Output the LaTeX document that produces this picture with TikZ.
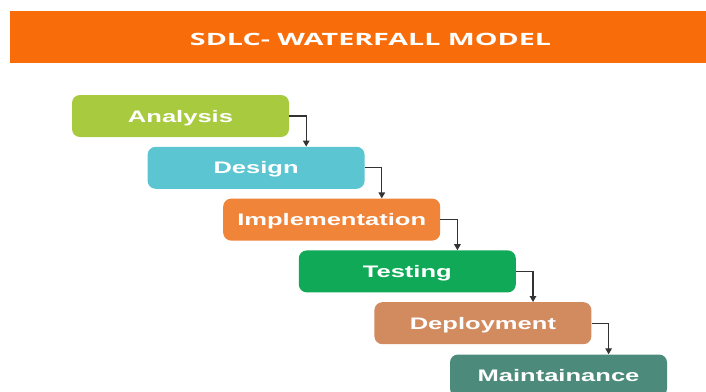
\documentclass[tikz,border=0pt]{standalone}
\usepackage{fontspec}
\setmainfont{Liberation Sans}
\newfontfamily\titlefont{Open Sans}
\usetikzlibrary{arrows.meta}
\definecolor{banner}{HTML}{F86D0A}
\definecolor{cAna}{HTML}{A8CA3F}
\definecolor{cDes}{HTML}{5BC5D2}
\definecolor{cImp}{HTML}{F0853A}
\definecolor{cTes}{HTML}{10A957}
\definecolor{cDep}{HTML}{D28A5F}
\definecolor{cMai}{HTML}{4C8B7B}
\definecolor{conn}{HTML}{333333}
\tikzset{
  phase/.style={fill=#1, draw=none, rounded corners=8pt, minimum width=217pt,
    minimum height=42pt, inner sep=0pt, text=white, text height=12pt, text depth=0pt,
    font=\fontsize{16.7pt}{18pt}\selectfont\bfseries},
  link/.style={draw=conn, line width=1.3pt, -{Triangle[width=6.5pt,length=6pt]}}
}
\newcommand{\wide}[1]{\scalebox{1.53}[1]{#1}}
\begin{document}
\begin{tikzpicture}[x=1pt,y=-1pt]
\useasboundingbox (0,0) rectangle (706,391);
\clip (0,0) rectangle (706,391);
\fill[white] (0,0) rectangle (706,391);
\fill[banner] (10,11) rectangle (706,63);
\node[text=white, inner sep=0pt, anchor=base] (title) at (370.5,45)
  {\resizebox{361pt}{12.3pt}{\titlefont\bfseries SDLC- WATERFALL MODEL}};
\node[phase=cAna] (ana) at (180.5,116) {\wide{Analysis}};
\node[phase=cDes] (des) at (256.1,167.8) {\wide{Design}};
\node[phase=cImp] (imp) at (331.7,219.6) {\wide{Implementation}};
\node[phase=cTes] (tes) at (407.3,271.4) {\wide{Testing}};
\node[phase=cDep] (dep) at (482.9,323.2) {\wide{Deployment}};
\node[phase=cMai] (mai) at (558.5,375.5) {\wide{Maintainance}};
\foreach \a/\b in {ana/des, des/imp, imp/tes, tes/dep, dep/mai}{
  \draw[link] (\a.east) -- ++(17,0) coordinate (k\a) -- (k\a |- \b.north);
}
\end{tikzpicture}
\end{document}
